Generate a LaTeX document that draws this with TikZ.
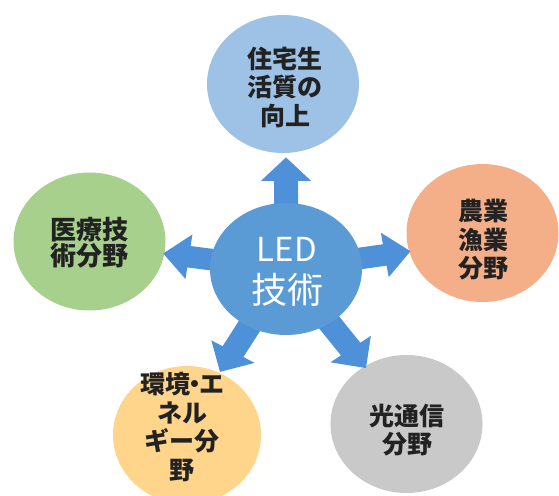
\documentclass[tikz,border=0pt]{standalone}
\usepackage{fontspec}
\newfontfamily\jp{Noto Sans CJK JP}
\usetikzlibrary{shapes.geometric}
\definecolor{cblue}{HTML}{5B9BD5}
\definecolor{ablue}{HTML}{4F91D8}
\definecolor{ltblue}{HTML}{9EC2E6}
\definecolor{cgreen}{HTML}{A8D08D}
\definecolor{csalmon}{HTML}{F4AF88}
\definecolor{cyellow}{HTML}{FFD58C}
\definecolor{cgray}{HTML}{C9C9C9}
\definecolor{txt}{HTML}{222222}
\tikzset{
  bubble/.style={ellipse, inner sep=0pt, minimum width=152pt, minimum height=138pt},
  label24/.style={align=center, text=txt, font=\jp\bfseries\fontsize{25}{28.5}\selectfont, inner sep=0pt},
  arrowfill/.style={fill=ablue},
}
\begin{document}
\begin{tikzpicture}[x=1pt,y=-1pt]
\useasboundingbox (0,0) rectangle (559,495);
% outer bubbles
\node[bubble, fill=ltblue] (top) at (283,84) {};
\node[bubble, fill=cgreen] (left) at (89.5,241.5) {};
\node[bubble, fill=csalmon] (right) at (482.5,233) {};
\node[bubble, fill=cyellow, minimum width=148pt] (bl) at (187,435) {};
\node[bubble, fill=cgray] (br) at (406.5,424) {};
% center
\node[ellipse, inner sep=0pt, minimum width=152pt, minimum height=132pt] (c) at (286,269) {};
% block arrows
\foreach \ang/\len in {90/124, 9/126, -54/136, -120/132, 172/124}{
  \fill[arrowfill, shift={(c.center)}, yscale=0.9, rotate=\ang]
    (50,-12) -- ({\len-26},-12) -- ({\len-26},-25) -- (\len,0)
    -- ({\len-26},25) -- ({\len-26},12) -- (50,12) -- cycle;
}
\fill[cblue] (c.center) ellipse [x radius=76, y radius=66];
\node[align=center, text=white, inner sep=0pt, font=\jp\fontsize{36}{42}\selectfont] (ct) at (287,272) {{\fontsize{33}{42}\selectfont LED}\\技術};
% labels
\node[label24] (ttop) at (285,87) {住宅生\\活質の\\向上};
\node[label24, font=\jp\bfseries\fontsize{26}{26}\selectfont] (tleft) at (89,242.5) {医療技\\術分野};
\node[label24] (tright) at (483,240) {農業\\漁業\\分野};
\node[label24] (tbl) at (182,427) {環境\kern-8pt・\kern-8ptエ\\ネル\\ギー分\\野};
\node[label24] (tbr) at (407,430) {光通信\\分野};
\end{tikzpicture}
\end{document}
